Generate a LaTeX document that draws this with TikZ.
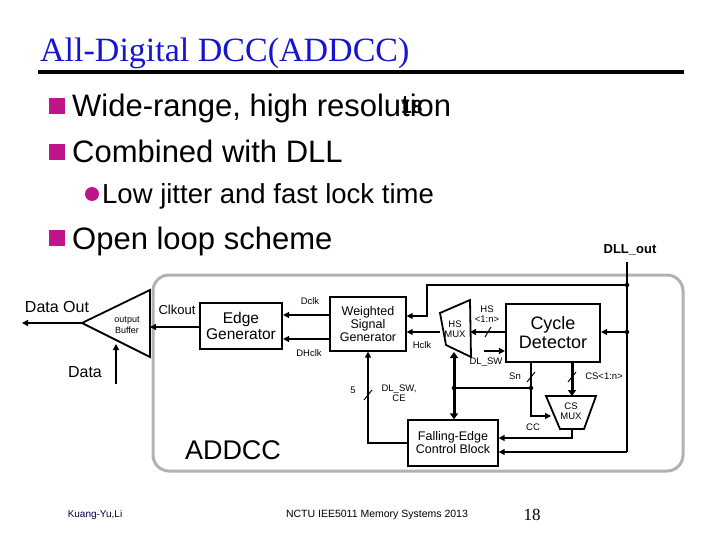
\documentclass[tikz,border=0pt]{standalone}
\usepackage{fontspec}
\setmainfont{Liberation Sans}
\newfontfamily\serifx{Liberation Serif}
\usetikzlibrary{arrows.meta}
\definecolor{mag}{RGB}{190,20,140}
\definecolor{ttl}{RGB}{20,20,210}
\begin{document}
\begin{tikzpicture}[x=1pt,y=-1pt,
  blk/.style={draw,line width=2.2pt,align=center,inner sep=0pt,font=\fontsize{15.5}{15.5}\selectfont},
  blk2/.style={draw,line width=1.3pt,align=center,inner sep=0pt,font=\fontsize{12.5}{13}\selectfont},
  w/.style={line width=1.8pt},
  wa/.style={line width=1.8pt,-{Triangle[length=6pt,width=6pt]}},
  lb/.style={font=\fontsize{9.5}{10}\selectfont,inner sep=0pt,align=center},
  dotn/.style={circle,fill,inner sep=0pt,minimum size=4.5pt}]
\useasboundingbox (0,0) rectangle (720,540);
% title
\node[anchor=base west,inner sep=0pt,text=ttl,font=\serifx\fontsize{34}{34}\selectfont] (title) at (40,62) {\underline{All-Digital DCC(ADDCC)}};
\draw[line width=3.5pt] (38,72) -- (684,72);
% bullets
\tikzset{bul/.style={fill=mag,minimum size=16pt,inner sep=0pt},btxt/.style={anchor=base west,inner sep=0pt,font=\fontsize{31}{31}\selectfont}}
\node[bul] (b1) at (57,106) {};
\node[btxt] (t1) at (72,117) {Wide-range, high resolution};
\node[anchor=base west,inner sep=0pt,font=\fontsize{19}{19}\selectfont\bfseries] (num) at (401,114) {18};
\node[bul] (b2) at (57,152) {};
\node[btxt] (t2) at (72,163) {Combined with DLL};
\node[circle,fill=mag,minimum size=14pt,inner sep=0pt] (b3) at (92,194) {};
\node[anchor=base west,inner sep=0pt,font=\fontsize{27.5}{27.5}\selectfont] (t3) at (102,204) {Low jitter and fast lock time};
\node[bul] (b4) at (57,238) {};
\node[btxt] (t4) at (72,249) {Open loop scheme};
\node[font=\fontsize{13}{13}\selectfont\bfseries,inner sep=0pt] (dll) at (630,250) {DLL\_out};
% frame
\draw[line width=3pt,gray!60,rounded corners=16pt] (153,275) rectangle (683,471);
% blocks
\node[blk,minimum width=82pt,minimum height=46pt] (eg) at (241,326) {Edge\\Generator};
\node[blk2,minimum width=76pt,minimum height=54pt] (wsg) at (368,324) {Weighted\\Signal\\Generator};
\node[blk,minimum width=94pt,minimum height=58pt,font=\fontsize{18}{19}\selectfont] (cd) at (553,333) {Cycle\\Detector};
\node[blk2,minimum width=90pt,minimum height=46pt] (fe) at (453,443) {Falling-Edge\\Control Block};
\draw[line width=1.8pt] (440,313) -- (470,300) -- (471,357) -- (446,345) -- cycle;
\node[lb] (hsm) at (455,329) {HS\\MUX};
\coordinate (hsl) at (440,332); \coordinate (hsr) at (470,332); \coordinate (hsb) at (454,352);
\draw[line width=1.8pt] (546,396) -- (596,396) -- (584,429) -- (560,429) -- cycle;
\node[lb] (csm) at (571,411) {CS\\MUX};
% output buffer
\draw[line width=1.8pt] (82,323) -- (150,290) -- (150,357) -- cycle;
\coordinate (bt) at (82,323); \coordinate (br) at (150,327);
\node[lb,font=\fontsize{9}{11}\selectfont] (ob) at (127,325) {output\\Buffer};
\coordinate (db) at (116,384); \coordinate (dt) at (116,344);
\draw[wa] (db) -- (dt);
\node[font=\fontsize{16}{16}\selectfont,inner sep=0pt] (dat) at (85,372) {Data};
\coordinate (do) at (22,323);
\draw[wa] (bt) -- (do);
\node[font=\fontsize{16}{16}\selectfont,inner sep=0pt] (dto) at (57,307) {Data Out};
\draw[wa] (eg.west|-br) -- (br);
\node[font=\fontsize{13}{13}\selectfont,inner sep=0pt] (ck) at (177,310) {Clkout};
% WSG to EG
\draw[wa] (wsg.west|-0,315) -- (eg.east|-0,315);
\draw[wa] (wsg.west|-0,339) -- (eg.east|-0,339);
\node[lb] (dclk) at (310,301) {Dclk};
\node[lb] (dhclk) at (309,353) {DHclk};
% HS mux to WSG
\draw[wa] (hsl) -- (wsg.east|-hsl);
\node[lb] (hclk) at (422,345) {Hclk};
\draw[wa] (cd.west|-hsr) -- (hsr);
\draw[line width=1pt] (485,337) -- (491,327);
\node[lb] (hsn) at (487,314) {HS\\<1:n>};
\coordinate (dls) at (484,351);
\draw[wa] (dls) -- (cd.west|-dls);
\node[lb] (dlsw) at (486,362) {DL\_SW};
% DLL_out line
\coordinate (vt) at (627,262); \coordinate (vb) at (627,452);
\node[dotn] (d1) at (627,285) {}; \node[dotn] (d2) at (627,332) {};
\draw[w] (vt) -- (vb);
\coordinate (k1) at (427,285);
\draw[wa] (d1) -- (k1) -- (427,316) -- (wsg.east|-0,316);
\draw[wa] (d2) -- (cd.east|-d2);
\draw[wa] (vb) -- (fe.east|-vb);
% FE to WSG
\coordinate (fl) at (fe.west|-0,443);
\draw[wa] (fl) -- (368,443) -- (wsg.south);
\draw[line width=1pt] (364,400) -- (372,390);
\node[lb] (five) at (353,390) {5};
\node[lb] (dlce) at (399,393) {DL\_SW,\\CE};
% HS mux <-> FE
\draw[line width=3pt,{Triangle[length=6pt,width=8pt]}-{Triangle[length=6pt,width=8pt]}] (hsb) -- (fe.north-|hsb);
\node[dotn] (d3) at (454,388) {}; \node[dotn] (d4) at (531,388) {};
\draw[w] (d3) -- (d4);
\draw[wa] (cd.south-|d4) -- (531,416) -- (551,416);
\draw[line width=1pt] (527,382) -- (535,372);
\node[lb] (sn) at (515,376) {Sn};
\draw[line width=3pt,-{Triangle[length=6pt,width=8pt]}] (cd.south-|572,0) -- (572,396);
\draw[line width=1pt] (568,382) -- (576,372);
\node[lb] (csn) at (604,376) {CS<1:n>};
\draw[wa] (572,429) -- (572,438) -- (fe.east|-0,438);
\node[lb] (cc) at (533,427) {CC};
\node[font=\fontsize{27}{27}\selectfont,inner sep=0pt] (addcc) at (233,450) {ADDCC};
% footer
\node[font=\fontsize{10}{10}\selectfont,text=black!75!blue,inner sep=0pt] (f1) at (95,515) {Kuang-Yu,Li};
\node[font=\fontsize{10.5}{10.5}\selectfont,inner sep=0pt] (f2) at (377,515) {NCTU IEE5011 Memory Systems 2013};
\node[font=\serifx\fontsize{17}{17}\selectfont,inner sep=0pt] (f3) at (532,515) {18};
\end{tikzpicture}
\end{document}
